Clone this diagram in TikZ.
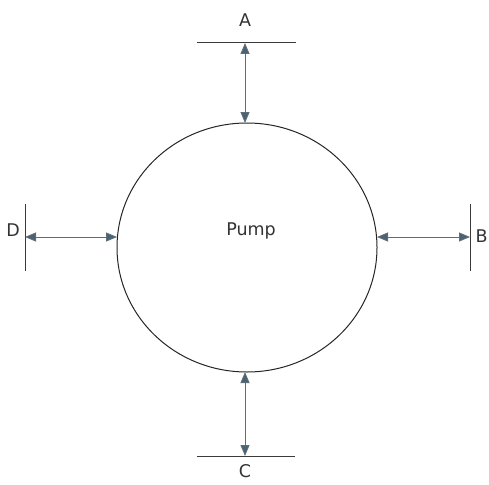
\documentclass[tikz,border=0pt]{standalone}
\usepackage{fontspec}
\setmainfont{DejaVu Sans}
\usetikzlibrary{arrows.meta,shapes.geometric}
\definecolor{arrowcol}{HTML}{4A6272}
\definecolor{shaftcol}{HTML}{5E6E78}
\definecolor{barcol}{HTML}{3A3A3A}
\definecolor{txtcol}{HTML}{333333}
\tikzset{
  bar/.style={draw=barcol, line width=1pt},
  flow/.style={draw=shaftcol, line width=0.9pt, {Triangle[length=11pt,width=9pt,fill=arrowcol]}-{Triangle[length=11pt,width=9pt,fill=arrowcol]}},
  lab/.style={text=txtcol, font=\fontsize{17.5}{19}\selectfont, inner sep=0pt},
}
\begin{document}
\begin{tikzpicture}[x=1pt,y=-1pt]
\useasboundingbox (0,0) rectangle (489,484);
% pump
\node[ellipse, draw=black!85, line width=1pt, minimum width=260pt, minimum height=249pt, inner sep=0pt] (pump) at (247,247.5) {};
\node[lab] (pumplabel) at (251,231) {Pump};
% contact points on pump
\coordinate (ptop) at (245,123);
\coordinate (pbot) at (245,372);
\coordinate (pleft) at (117,237);
\coordinate (pright) at (377,237);
% bars
\coordinate (a1) at (197,43); \coordinate (a2) at (296,43); \coordinate (am) at (245,43);
\coordinate (c1) at (197,456); \coordinate (c2) at (295,456); \coordinate (cm) at (245,456);
\coordinate (d1) at (25,204); \coordinate (d2) at (25,271); \coordinate (dm) at (25,237);
\coordinate (b1) at (470,204); \coordinate (b2) at (470,271); \coordinate (bm) at (470,237);
\draw[bar] (a1) -- (a2);
\draw[bar] (c1) -- (c2);
\draw[bar] (d1) -- (d2);
\draw[bar] (b1) -- (b2);
% arrows
\draw[flow] (am) -- (ptop);
\draw[flow] (cm) -- (pbot);
\draw[flow] (dm) -- (pleft);
\draw[flow] (bm) -- (pright);
% labels
\node[lab] (A) at (245,20) {A};
\node[lab] (C) at (245,471.5) {C};
\node[lab] (D) at (13,230) {D};
\node[lab] (B) at (481.5,236) {B};
\end{tikzpicture}
\end{document}
